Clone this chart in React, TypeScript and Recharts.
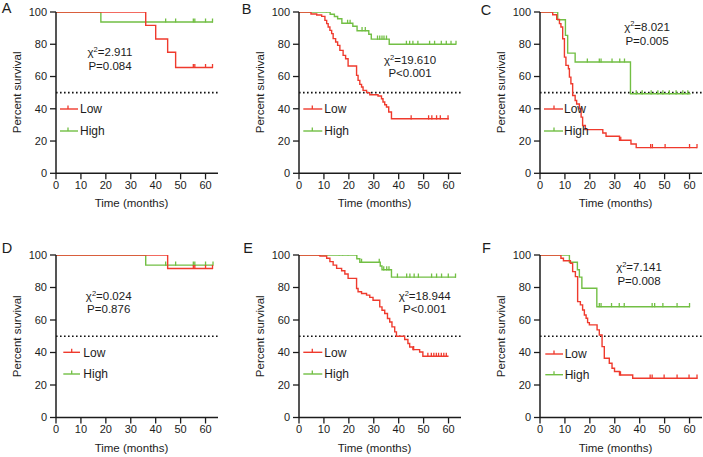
import React from 'react';
import { ComposedChart, Line, Scatter, XAxis, YAxis, ReferenceLine } from 'recharts';

const RED = '#ef3a2d';
const GREEN = '#72bf44';
const AX = '#1c1c1c';
const FONT = '"Liberation Sans", Arial, Helvetica, sans-serif';

const xTicks = [0, 10, 20, 30, 40, 50, 60];
const yTicks = [0, 20, 40, 60, 80, 100];
const groupNames = ['Low', 'High'];

// Panel A
const aLowT = [0, 36, 40, 44.8, 48, 63];
const aLowS = [100, 91.7, 83.3, 75, 65.6, 65.6];
const aLowC = [55.1, 55.7, 60, 62.8];
const aHighT = [0, 18, 63];
const aHighS = [100, 93.8, 93.8];
const aHighC = [44, 48, 55.1, 55.7, 60, 62.8];

// Panel B
const bLowT = [0, 4.8, 7.1, 9.1, 10.4, 11.1, 11.7, 12.4, 13.1, 13.7, 14.7, 15.5, 16.4, 17.7, 18.7, 19.7, 23.1, 23.7, 24.4, 25.1, 25.7, 27.1, 28.4, 31.7, 33.1, 33.7, 34.4, 35.1, 36, 37.1, 60.1];
const bLowS = [100, 98.8, 98.1, 97.3, 94.8, 92.8, 90.7, 88.6, 86.6, 83.5, 81.4, 79.3, 76.2, 73.1, 71, 66.5, 60.7, 57.6, 55.1, 53.5, 51.4, 50, 48.7, 47.9, 46.2, 44.2, 42.5, 41.1, 38, 33.8, 33.8];
const bLowC = [45, 52, 53.3, 55.2, 56.7, 59.8];
const bHighT = [0, 12.5, 14.2, 15.5, 17.2, 21.6, 23.3, 28, 29, 36.2, 63];
const bHighS = [100, 98.6, 97.2, 95.8, 93, 91.2, 88.4, 86.2, 83.2, 80, 80];
const bHighC = [11, 19.5, 20.5, 25.3, 26.6, 31.5, 32.4, 33.3, 34.1, 35.1, 43.1, 44.4, 45.7, 47.7, 52.4, 54.4, 57.1, 59.1, 61, 63];

// Panel C
const cLowT = [0, 5.1, 6.7, 7.8, 8.4, 9.1, 9.8, 10.4, 11.4, 11.8, 12.4, 13.1, 14.1, 14.7, 15.8, 16.5, 17.1, 18.2, 25.2, 26.5, 31.9, 36.5, 38.6, 63];
const cLowS = [100, 98.3, 95.4, 92.8, 90.7, 83.4, 72, 66.9, 64.8, 59.6, 55.5, 48.2, 45.1, 43, 40, 34.8, 29.6, 27.1, 25, 23, 20.5, 18.2, 15.9, 15.9];
const cLowC = [32.4, 44.4, 45.1, 50.2, 60, 63];
const cHighT = [0, 7.1, 10.2, 11.1, 14.1, 36.3, 60.4];
const cHighS = [100, 95.2, 85.5, 74.5, 69, 49.3, 49.3];
const cHighC = [19, 23.8, 24.5, 28.9, 32, 33.9, 38.6, 41, 44.6, 47.3, 49.3, 51.9, 54.6, 57.3, 59.3];

// Panel D
const dLowT = [0, 44.8, 63];
const dLowS = [100, 91.7, 91.7];
const dLowC = [55.1, 55.7, 60, 62.8];
const dHighT = [0, 36, 63];
const dHighS = [100, 93.75, 93.75];
const dHighC = [44, 48, 55.1, 55.7, 60, 63];

// Panel E
const eLowT = [0, 8.4, 11.1, 12.4, 13.7, 15.1, 17.1, 18.4, 19.7, 23.1, 23.7, 25.1, 27.1, 28.4, 29.7, 32.4, 33.3, 34.4, 35.5, 36.4, 37.3, 38.4, 39.1, 42.4, 43.7, 44.4, 45.7, 48.4, 49.7, 60];
const eLowS = [100, 99.4, 98, 95.9, 93.8, 91.8, 90.3, 88.3, 85.6, 79.4, 77.4, 76.3, 75.3, 73.9, 72.2, 68.1, 66, 64, 60.9, 58.8, 55.8, 52.7, 50, 48, 45.5, 43.4, 41.8, 40.3, 37.7, 37.7];
const eLowC = [8, 46, 51.7, 53.1, 54.1, 55.1, 56, 57.1, 58.1, 59.1];
const eHighT = [0, 23.2, 24.4, 32.6, 33.3, 37.1, 63];
const eHighS = [100, 97.7, 95.5, 93.2, 90.9, 86.4, 86.4];
const eHighC = [16.1, 17.5, 19.7, 25.1, 32.2, 34, 35.2, 36.1, 39.5, 43.2, 44.5, 46.2, 47.9, 53.2, 55.2, 57.2, 59.9, 62.8];

// Panel F
const fLowT = [0, 8.4, 9.4, 12.2, 13.1, 14.2, 15.1, 16.2, 17.1, 17.8, 18.5, 19.1, 19.8, 22.9, 23.8, 24.9, 25.8, 27.8, 28.9, 29.9, 31.9, 37.2, 63.2];
const fLowS = [100, 98, 96.5, 94.9, 89.8, 86.7, 71.3, 69.3, 66.2, 63.1, 61.1, 58.4, 57, 53.9, 50.8, 43.6, 36.5, 33.4, 30.3, 28.3, 26.2, 24.2, 24.2];
const fLowC = [32.3, 44.2, 45, 49.8, 55, 59.8, 63];
const fHighT = [0, 11.8, 15, 15.8, 16.8, 22.8, 60.2];
const fHighS = [100, 95.5, 90.9, 86.4, 79.5, 68.2, 68.2];
const fHighC = [23.8, 24.5, 28.7, 31.8, 33.8, 45, 46, 49.3, 55, 60];

const chiValues = ['2.911', '19.610', '8.021', '0.024', '18.944', '7.141'];
const pValues = ['P=0.084', 'P<0.001', 'P=0.005', 'P=0.876', 'P<0.001', 'P=0.008'];

type Pt = { t: number; s: number };
const steps = (t: number[], s: number[]): Pt[] => t.map((tt, i) => ({ t: tt, s: s[i] }));
const marks = (cens: number[], t: number[], s: number[]): Pt[] =>
  cens.map((c) => {
    let v = s[0];
    for (let i = 0; i < t.length; i++) if (t[i] <= c + 1e-9) v = s[i];
    return { t: c, s: v };
  });

// layout (positions only)
const panels = [
  { letter: 'A', x0: 56, y0: 11.7, h: 161.3, low: [aLowT, aLowS, aLowC], high: [aHighT, aHighS, aHighC], letterPos: [1.7, 13.4], stat: [110, 56.4, 70], leg: [60, 78, 68, 80, 109, 131] },
  { letter: 'B', x0: 299, y0: 11.7, h: 161.3, low: [bLowT, bLowS, bLowC], high: [bHighT, bHighS, bHighC], letterPos: [241.7, 14], stat: [410, 64, 77.3], leg: [303.3, 322.3, 312.3, 324.3, 109, 131] },
  { letter: 'C', x0: 540, y0: 11.7, h: 161.3, low: [cLowT, cLowS, cLowC], high: [cHighT, cHighS, cHighC], letterPos: [480.7, 15], stat: [647, 30.7, 44.7], leg: [544, 563, 554, 564, 109, 131] },
  { letter: 'D', x0: 56, y0: 255, h: 162.5, low: [dLowT, dLowS, dLowC], high: [dHighT, dHighS, dHighC], letterPos: [1.7, 253], stat: [108.7, 300.3, 313], leg: [63.3, 80, 71.7, 83.3, 352.3, 374] },
  { letter: 'E', x0: 299, y0: 255, h: 162.5, low: [eLowT, eLowS, eLowC], high: [eHighT, eHighS, eHighC], letterPos: [243.3, 253], stat: [424.7, 300.3, 313], leg: [303.3, 322.3, 312.3, 324.3, 352.3, 374] },
  { letter: 'F', x0: 540, y0: 255, h: 162.5, low: [fLowT, fLowS, fLowC], high: [fHighT, fHighS, fHighC], letterPos: [482, 253], stat: [639, 271.3, 284.7], leg: [545.3, 563, 554, 564.7, 354, 374.7] },
];

const censorShape = (color: string) => (props: any) => {
  const { cx, cy } = props;
  if (cx == null || cy == null) return <g />;
  return <line x1={cx} x2={cx} y1={cy - 3.6} y2={cy + 0.6} stroke={color} strokeWidth={1.3} />;
};

function Panel({ cfg }: { cfg: any }) {
  const lowLine = steps(cfg.low[0], cfg.low[1]);
  const highLine = steps(cfg.high[0], cfg.high[1]);
  const lowMarks = marks(cfg.low[2], cfg.low[0], cfg.low[1]);
  const highMarks = marks(cfg.high[2], cfg.high[0], cfg.high[1]);
  const tickStyle = { fontSize: 11, fill: '#1c1c1c', fontFamily: FONT };
  return (
    <div style={{ position: 'absolute', left: cfg.x0 - 56, top: cfg.y0 - 12 }}>
      <ComposedChart width={220} height={12 + cfg.h + 38} margin={{ top: 12, right: 2, bottom: 0, left: 0 }}>
        <XAxis
          type="number"
          dataKey="t"
          domain={[0, 65]}
          ticks={xTicks}
          interval={0}
          allowDataOverflow
          tickSize={6}
          tickMargin={2}
          height={38}
          axisLine={{ stroke: AX, strokeWidth: 1.5 }}
          tickLine={{ stroke: AX, strokeWidth: 1.3 }}
          tick={tickStyle}
        />
        <YAxis
          type="number"
          domain={[0, 100]}
          ticks={yTicks}
          interval={0}
          allowDataOverflow
          width={56}
          tickSize={6}
          tickMargin={3}
          axisLine={{ stroke: AX, strokeWidth: 1.5 }}
          tickLine={{ stroke: AX, strokeWidth: 1.3 }}
          tick={tickStyle}
        />
        <ReferenceLine y={50} stroke="#111" strokeWidth={1.7} strokeDasharray="1.6 2.4" ifOverflow="extendDomain" />
        <Line data={highLine} dataKey="s" type="stepAfter" stroke={GREEN} strokeWidth={1.4} dot={false} activeDot={false} isAnimationActive={false} />
        <Line data={lowLine} dataKey="s" type="stepAfter" stroke={RED} strokeWidth={1.4} dot={false} activeDot={false} isAnimationActive={false} />
        <Scatter data={highMarks} dataKey="s" shape={censorShape(GREEN)} isAnimationActive={false} />
        <Scatter data={lowMarks} dataKey="s" shape={censorShape(RED)} isAnimationActive={false} />
      </ComposedChart>
    </div>
  );
}

function Overlay() {
  return (
    <svg width={703} height={457} style={{ position: 'absolute', left: 0, top: 0, pointerEvents: 'none' }}>
      {panels.map((p, i) => {
        const [lx1, lx2, tx, textX, ly1, ly2] = p.leg;
        const yc = p.y0 + p.h / 2;
        const ytx = p.x0 - 39.3;
        const titleBase = p.y0 + p.h + 34;
        return (
          <g key={p.letter} fontFamily={FONT} fill="#1c1c1c">
            <text x={p.letterPos[0]} y={p.letterPos[1]} fontSize={14.5}>{p.letter}</text>
            <text x={ytx} y={yc} fontSize={11.5} textAnchor="middle" dominantBaseline="central" transform={`rotate(-90, ${ytx}, ${yc})`}>
              Percent survival
            </text>
            <text x={p.x0 + 75.5} y={titleBase} fontSize={11.5} textAnchor="middle">Time (months)</text>
            <text x={p.stat[0]} y={p.stat[1]} fontSize={11.5} textAnchor="middle">
              χ<tspan dy={-4.5} fontSize={7.5}>2</tspan><tspan dy={4.5}>={chiValues[i]}</tspan>
            </text>
            <text x={p.stat[0]} y={p.stat[2]} fontSize={11.5} textAnchor="middle">{pValues[i]}</text>
            <line x1={lx1} x2={lx2} y1={ly1} y2={ly1} stroke={RED} strokeWidth={1.4} />
            <line x1={tx} x2={tx} y1={ly1 - 3.5} y2={ly1} stroke={RED} strokeWidth={1.3} />
            <text x={textX} y={ly1 + 4.3} fontSize={12}>{groupNames[0]}</text>
            <line x1={lx1} x2={lx2} y1={ly2} y2={ly2} stroke={GREEN} strokeWidth={1.4} />
            <line x1={tx} x2={tx} y1={ly2 - 3.5} y2={ly2} stroke={GREEN} strokeWidth={1.3} />
            <text x={textX} y={ly2 + 4.3} fontSize={12}>{groupNames[1]}</text>
          </g>
        );
      })}
    </svg>
  );
}

export default function App() {
  return (
    <div style={{ position: 'absolute', left: 0, top: 0, width: 703, height: 457, overflow: 'hidden', background: '#fff' }}>
      {panels.map((p) => (
        <Panel key={p.letter} cfg={p} />
      ))}
      <Overlay />
    </div>
  );
}
